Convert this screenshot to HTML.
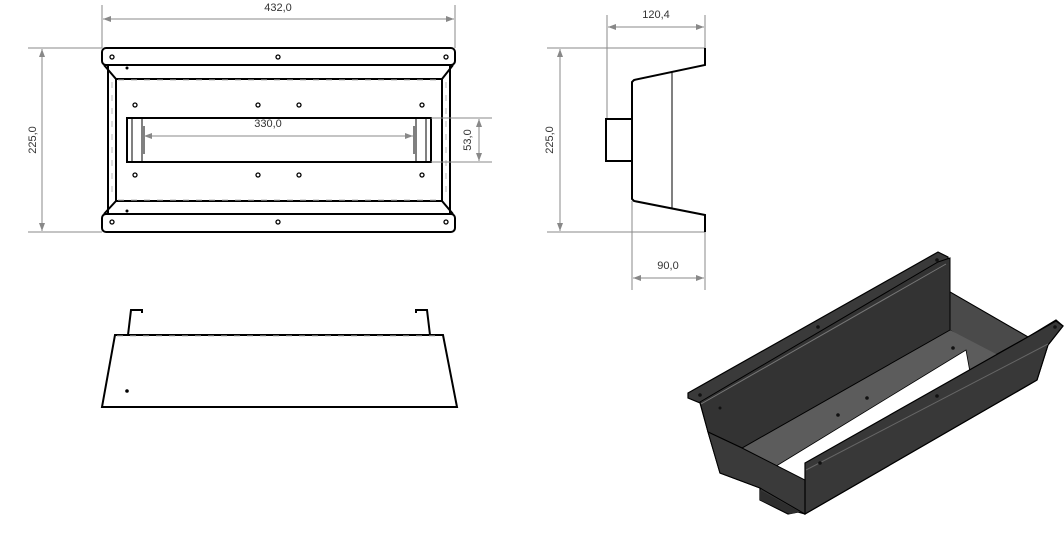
<!DOCTYPE html>
<html><head><meta charset="utf-8"><style>
html,body{margin:0;padding:0;background:#fff;}
svg{display:block;font-family:"Liberation Sans",sans-serif;}
.d{stroke:#8a8a8a;stroke-width:1;fill:none}
.o{stroke:#000;stroke-width:2;fill:none}
.t{stroke:#000;stroke-width:1;fill:none}
.dash{stroke:#bbb;stroke-width:1;stroke-dasharray:6 7;fill:none}
.h{fill:#fff;stroke:#000;stroke-width:1.3}
text{font-size:11px;fill:#333}
</style></head><body>
<svg width="1064" height="548" viewBox="0 0 1064 548">
<defs><marker id="a" markerWidth="8" markerHeight="6" refX="8" refY="3" orient="auto-start-reverse" markerUnits="userSpaceOnUse"><path d="M0,0 L8,3 L0,6z" fill="#888"/></marker></defs>

<!-- TOP VIEW -->
<line class="d" x1="102" y1="5" x2="102" y2="48"/><line class="d" x1="455" y1="5" x2="455" y2="48"/>
<line class="d" x1="103" y1="19" x2="454" y2="19" marker-start="url(#a)" marker-end="url(#a)"/>
<text x="278" y="11" text-anchor="middle">432,0</text>
<line class="d" x1="28" y1="48" x2="102" y2="48"/><line class="d" x1="28" y1="232" x2="102" y2="232"/>
<line class="d" x1="42" y1="49" x2="42" y2="231" marker-start="url(#a)" marker-end="url(#a)"/>
<text x="0" y="0" text-anchor="middle" transform="translate(36,140) rotate(-90)">225,0</text>

<rect class="o" x="102" y="48" width="353" height="17" rx="4"/>
<rect class="o" x="102" y="214" width="353" height="18" rx="4"/>
<path class="o" d="M104,65 L116,79 L442,79 L453,65 M104,214 L116,201 L442,201 L453,214"/>
<path class="o" d="M108,66 L108,213 M450,66 L450,213"/>
<rect class="o" x="116" y="79" width="326" height="122"/>
<line class="dash" x1="118" y1="79" x2="440" y2="79" transform="translate(0,1)"/>
<line class="dash" x1="118" y1="201" x2="440" y2="201" transform="translate(0,-1)"/>
<line class="dash" x1="112" y1="82" x2="112" y2="198"/><line class="dash" x1="446" y1="82" x2="446" y2="198"/>
<circle class="h" cx="112" cy="57" r="2"/><circle class="h" cx="278" cy="57" r="2"/><circle class="h" cx="446" cy="57" r="2"/>
<circle class="h" cx="112" cy="222" r="2"/><circle class="h" cx="278" cy="222" r="2"/><circle class="h" cx="446" cy="222" r="2"/>
<circle cx="127" cy="68" r="1.5"/><circle cx="127" cy="211" r="1.5"/>
<g class="h"><circle cx="135" cy="105" r="2"/><circle cx="258" cy="105" r="2"/><circle cx="299" cy="105" r="2"/><circle cx="422" cy="105" r="2"/>
<circle cx="135" cy="175" r="2"/><circle cx="258" cy="175" r="2"/><circle cx="299" cy="175" r="2"/><circle cx="422" cy="175" r="2"/></g>
<rect class="o" x="127" y="118" width="304" height="44"/>
<path class="t" d="M132,119 V161 M142,119 V161 M144,126 V154 M426,119 V161 M416,119 V161 M414,126 V154"/>
<line class="d" x1="144" y1="136" x2="413" y2="136" marker-start="url(#a)" marker-end="url(#a)"/>
<text x="268" y="127" text-anchor="middle">330,0</text>
<line class="d" x1="431" y1="118" x2="492" y2="118"/><line class="d" x1="431" y1="162" x2="492" y2="162"/>
<line class="d" x1="479" y1="119" x2="479" y2="161" marker-start="url(#a)" marker-end="url(#a)"/>
<text x="0" y="0" text-anchor="middle" transform="translate(471,140) rotate(-90)">53,0</text>

<!-- SIDE VIEW -->
<line class="d" x1="607" y1="15" x2="607" y2="119"/><line class="d" x1="705" y1="15" x2="705" y2="48"/>
<line class="d" x1="608" y1="27" x2="704" y2="27" marker-start="url(#a)" marker-end="url(#a)"/>
<text x="656" y="18" text-anchor="middle">120,4</text>
<line class="d" x1="547" y1="48" x2="705" y2="48"/><line class="d" x1="547" y1="232" x2="705" y2="232"/>
<line class="d" x1="560" y1="49" x2="560" y2="231" marker-start="url(#a)" marker-end="url(#a)"/>
<text x="0" y="0" text-anchor="middle" transform="translate(553,140) rotate(-90)">225,0</text>
<path class="o" d="M705,48 V65 L634,80 L632,82 V199 L634,201 L705,215 V232"/>
<line class="t" x1="672" y1="72" x2="672" y2="209"/>
<rect class="o" x="606" y="119" width="26" height="42"/>
<line class="d" x1="632" y1="201" x2="632" y2="290"/><line class="d" x1="705" y1="232" x2="705" y2="290"/>
<line class="d" x1="633" y1="278" x2="704" y2="278" marker-start="url(#a)" marker-end="url(#a)"/>
<text x="668" y="269" text-anchor="middle">90,0</text>

<!-- FRONT VIEW -->
<path class="o" d="M115,335 H443 L457,407 H102 Z"/>
<line class="dash" x1="117" y1="336" x2="441" y2="336"/>
<path class="o" d="M128,335 L131,310 H142 V313 M430,335 L427,310 H416 V313"/>
<circle cx="127" cy="391" r="1.8"/>

<!-- ISOMETRIC -->
<path fill="#3a3a3a" stroke="#000" stroke-width="1.2" d="M688,393 L938,252 L948,257 L950,292 L1028,337 L1056,320 L1063,326 L1048,345 L1037,380 L805,514 L798,512 L788,514 L760,500 L760,488 L720,473 L708,432 L700,403 L688,398 Z"/>
<path fill="#4a4a4a" stroke="#000" stroke-width="1" d="M950,292 L1028,337 L990,358 L950,330 Z"/>
<path fill="#5c5c5c" d="M742,448 L950,330 L1000,356 L805,466 L775,470 Z"/>
<path fill="#fff" stroke="#000" stroke-width="0.8" d="M773,468 L966,350 L970,372 L805,466 L805,482 Z"/>
<path fill="#333" stroke="#000" stroke-width="1" d="M700,402 L938,262 L950,258 L950,330 L742,448 L708,432 Z"/>
<path fill="none" stroke="#777" stroke-width="1" d="M701,404 L946,264"/>
<path fill="#3a3a3a" stroke="#000" stroke-width="1" d="M708,432 L742,448 L805,480 L805,514 L760,488 L720,473 Z"/>
<path fill="#383838" stroke="#000" stroke-width="1.2" d="M805,463 L1056,321 L1063,326 L1048,345 L1037,380 L805,514 Z"/>
<path fill="none" stroke="#666" stroke-width="1" d="M806,470 L1048,344"/>
<path fill="#2e2e2e" d="M760,490 L800,512 L790,514 L760,500 Z"/>
<g fill="#111"><circle cx="700" cy="395" r="1.8"/><circle cx="818" cy="327" r="1.8"/><circle cx="937" cy="260" r="1.8"/><circle cx="1055" cy="327" r="1.8"/>
<circle cx="953" cy="348" r="1.8"/><circle cx="867" cy="398" r="1.8"/><circle cx="838" cy="415" r="1.8"/><circle cx="937" cy="396" r="1.8"/><circle cx="820" cy="463" r="1.8"/><circle cx="720" cy="408" r="1.5"/></g>
</svg>
</body></html>
